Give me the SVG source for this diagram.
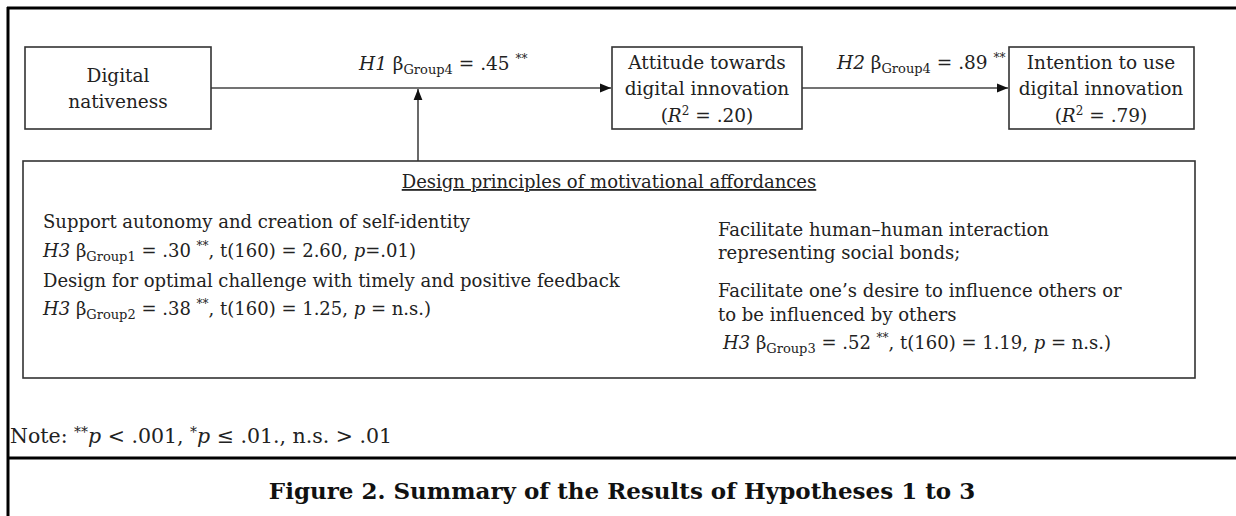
<svg xmlns="http://www.w3.org/2000/svg" width="1236" height="516" viewBox="0 0 1236 516">
<style>
  text { font-family: 'DejaVu Serif', 'Liberation Serif', serif; font-size: 18.5px; fill: #222; }
  .body { font-size: 18px; }
  .box { fill: #fff; stroke: #333; stroke-width: 1.6; }
  .frame { stroke: #000; stroke-width: 3; fill: none; }
  .conn { stroke: #444; stroke-width: 1.6; fill: none; }
  .it { font-style: italic; }
  .sub { font-size: 13px; }
  .sup { font-size: 12px; }
  .mid { text-anchor: middle; }
  .note { font-size: 20.5px; }
  .cap { font-weight: bold; font-size: 23px; fill: #111; }
</style>
<defs>
  <marker id="arrow" viewBox="0 0 10 10" refX="10" refY="5" markerWidth="11" markerHeight="11" markerUnits="userSpaceOnUse" orient="auto">
    <path d="M0,1 L10,5 L0,9 z" fill="#111"/>
  </marker>
</defs>
<rect width="1236" height="516" fill="#fff"/>
<g id="frame">
  <line class="frame" x1="7" y1="8" x2="1236" y2="8"/>
  <line class="frame" x1="8" y1="7" x2="8" y2="516"/>
  <line class="frame" x1="8" y1="458" x2="1236" y2="458"/>
</g>
<g id="connectors">
  <line class="conn" x1="211" y1="88" x2="611" y2="88" marker-end="url(#arrow)"/>
  <line class="conn" x1="802" y1="88" x2="1008" y2="88" marker-end="url(#arrow)"/>
  <line class="conn" x1="418" y1="161" x2="418" y2="89" marker-end="url(#arrow)"/>
  <text x="359" y="70"><tspan class="it">H1</tspan> β<tspan class="sub" dy="4">Group4</tspan><tspan dy="-4"> = .45 </tspan><tspan class="sup" dy="-7">**</tspan></text>
  <text x="837" y="69"><tspan class="it">H2</tspan> β<tspan class="sub" dy="4">Group4</tspan><tspan dy="-4"> = .89 </tspan><tspan class="sup" dy="-7">**</tspan></text>
</g>
<g id="node-digital-nativeness">
  <rect class="box" x="25" y="47" width="186" height="82"/>
  <text class="mid" x="118" y="82">Digital</text>
  <text class="mid" x="118" y="108">nativeness</text>
</g>
<g id="node-attitude">
  <rect class="box" x="612" y="47" width="190" height="82"/>
  <text class="mid" x="707" y="69">Attitude towards</text>
  <text class="mid" x="707" y="95">digital innovation</text>
  <text class="mid" x="707" y="122">(<tspan class="it">R</tspan><tspan class="sup" dy="-7">2</tspan><tspan dy="7"> = .20)</tspan></text>
</g>
<g id="node-intention">
  <rect class="box" x="1009" y="47" width="185" height="82"/>
  <text class="mid" x="1101" y="69">Intention to use</text>
  <text class="mid" x="1101" y="95">digital innovation</text>
  <text class="mid" x="1101" y="122">(<tspan class="it">R</tspan><tspan class="sup" dy="-7">2</tspan><tspan dy="7"> = .79)</tspan></text>
</g>
<g id="node-design-principles">
  <rect class="box" x="23" y="161" width="1172" height="217"/>
  <text class="mid body" x="609" y="188" text-decoration="underline">Design principles of motivational affordances</text>
  <text class="body" x="43" y="228">Support autonomy and creation of self-identity</text>
  <text class="body" x="43" y="257"><tspan class="it">H3</tspan> β<tspan class="sub" dy="4">Group1</tspan><tspan dy="-4"> = .30 </tspan><tspan class="sup" dy="-7">**</tspan><tspan dy="7">, t(160) = 2.60, </tspan><tspan class="it">p</tspan>=.01)</text>
  <text class="body" x="43" y="287">Design for optimal challenge with timely and positive feedback</text>
  <text class="body" x="43" y="315"><tspan class="it">H3</tspan> β<tspan class="sub" dy="4">Group2</tspan><tspan dy="-4"> = .38 </tspan><tspan class="sup" dy="-7">**</tspan><tspan dy="7">, t(160) = 1.25, </tspan><tspan class="it">p</tspan> = n.s.)</text>
  <text class="body" x="718" y="236">Facilitate human–human interaction</text>
  <text class="body" x="718" y="259">representing social bonds;</text>
  <text class="body" x="718" y="297">Facilitate one’s desire to influence others or</text>
  <text class="body" x="718" y="321">to be influenced by others</text>
  <text class="body" x="723" y="349"><tspan class="it">H3</tspan> β<tspan class="sub" dy="4">Group3</tspan><tspan dy="-4"> = .52 </tspan><tspan class="sup" dy="-7">**</tspan><tspan dy="7">,  t(160) = 1.19, </tspan><tspan class="it">p</tspan> = n.s.)</text>
</g>
<g id="note">
  <text class="note" x="10" y="443">Note: <tspan dy="-6" font-size="14">**</tspan><tspan class="it" dy="6">p</tspan> &lt; .001, <tspan dy="-6" font-size="14">*</tspan><tspan class="it" dy="6">p</tspan> ≤ .01., n.s. &gt; .01</text>
</g>
<g id="caption">
  <text class="mid cap" x="622" y="499">Figure 2. Summary of the Results of Hypotheses 1 to 3</text>
</g>
</svg>
